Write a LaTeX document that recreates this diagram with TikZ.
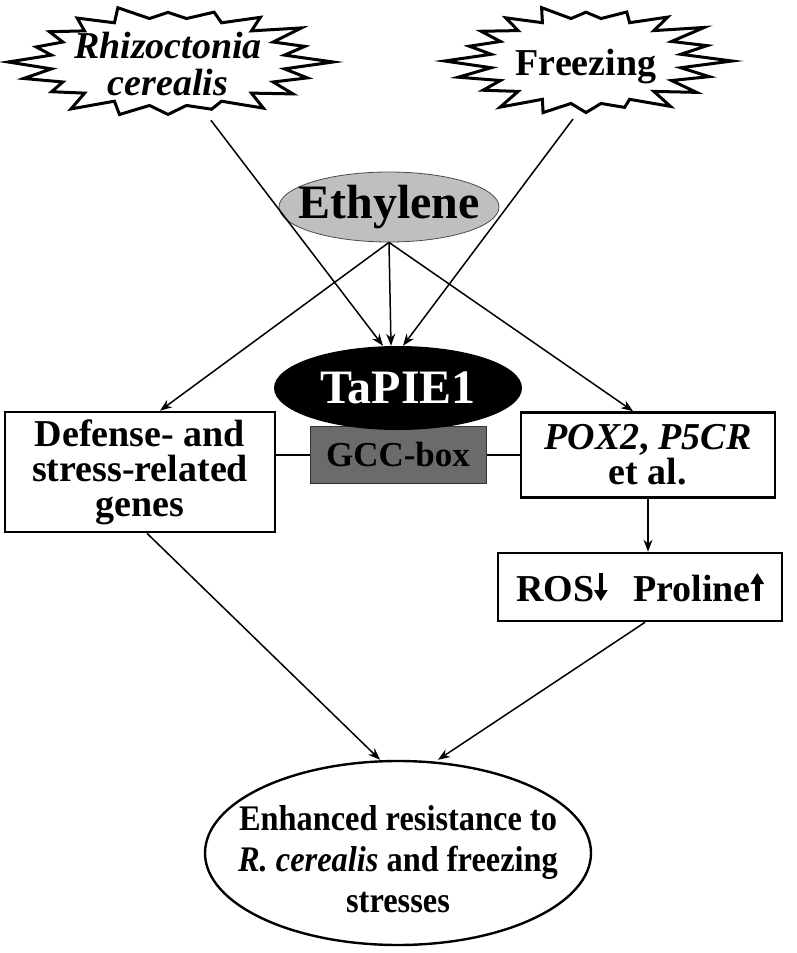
\documentclass[tikz,border=0pt]{standalone}
\usepackage{fontspec}
\setmainfont{Liberation Serif}
\newfontfamily\narrowserif{Liberation Serif}[FakeStretch=0.9]
\usetikzlibrary{arrows.meta,shapes.geometric}

\tikzset{
  oval/.style={ellipse, inner xsep=-60pt, inner ysep=0pt},
  genebox/.style={draw, line width=2.6pt, fill=white, align=center, inner sep=3pt,
                  font=\fontsize{38}{35}\selectfont\bfseries},
  burst/.style={line width=3pt, fill=white, line join=miter},
  link/.style={line width=1.5pt},
}

% spiky outline: centre, outer radii, inner radii
\newcommand\spikes[5]{%
  \begin{scope}[shift={(#1)}]
    \draw[burst] (#2,0)
      \foreach \k [evaluate=\k as \f using {isodd(\k) ? 1 : 0.84+0.16*mod(\k*7,11)/10},
                   evaluate=\k as \rx using {(isodd(\k) ? #4 : #2)*\f},
                   evaluate=\k as \ry using {(isodd(\k) ? #5 : #3)*\f}]
        in {1,...,39} { -- ({\rx*cos(\k*9)},{\ry*sin(\k*9)}) } -- cycle;
  \end{scope}}
\newcommand\arrdown{\tikz[x=1pt,y=1pt,baseline=0pt]\draw[line width=4.5pt,-{Triangle[length=11pt,width=13pt]}] (0,28)--(0,0);}
\newcommand\arrup{\tikz[x=1pt,y=1pt,baseline=0pt]\draw[line width=4.5pt,-{Triangle[length=11pt,width=13pt]}] (0,0)--(0,28);}

\begin{document}
\begin{tikzpicture}[x=1pt,y=-1pt,>={Stealth[length=12pt,width=9pt]}]
\useasboundingbox (0,0) rectangle (797,953);

% stresses
\coordinate (rc) at (168,62);
\coordinate (fc) at (586,61);
\spikes{rc}{165}{58}{118}{44}
\spikes{fc}{146}{57}{96}{43}
\node[oval, minimum width=330, minimum height=116, align=center,
      font=\fontsize{38}{37}\selectfont\bfseries\itshape] (rhizo) at (168,64) {Rhizoctonia\\cerealis};
\node[oval, minimum width=292, minimum height=104,
      font=\fontsize{38}{40}\selectfont\bfseries] (freeze) at (586,67) {Freezing};

% ethylene and the factor
\node[oval, draw=black!70, line width=0.8pt, fill=black!25, minimum width=220, minimum height=70,
      font=\fontsize{48}{50}\selectfont\bfseries] (eth) at (389,207) {Ethylene};
\node[draw=black!80, line width=1pt, fill=black!58, minimum width=176, minimum height=57, inner sep=0pt,
      font=\fontsize{35}{36}\selectfont\bfseries] (gcc) at (398,455) {GCC-box};
\node[oval, fill=black, text=white, minimum width=248, minimum height=84,
      font=\fontsize{48}{50}\selectfont\bfseries] (tapie) at (398,388) {TaPIE1};

% targets
\node[genebox, minimum width=270, minimum height=120] (defense) at (140,472) {Defense- and\\stress-related\\genes};
\node[genebox, minimum width=254, minimum height=85] (pox) at (648,455) {\textit{POX2}, \textit{P5CR}\\et al.};
\node[genebox, minimum width=284, minimum height=68] (ros) at (640,587) {ROS\arrdown\hspace{26pt}Proline\arrup};
\node[oval, draw, line width=2.4pt, minimum width=386, minimum height=184] (outcome) at (398,853) {};
\node[align=center, font=\narrowserif\fontsize{36}{41}\selectfont\bfseries] (outtext) at ([yshift=-6]outcome.center)
      {Enhanced resistance to\\\textit{R. cerealis} and freezing\\stresses};

\draw[->, link] (rhizo) -- ([xshift=-15]tapie.north);
\draw[->, link] (freeze.-104) -- ([xshift=5]tapie.north);
\draw[->, link] (eth.south) -- ([xshift=-7]tapie.north);
\draw[->, link] (eth.south) -- ([xshift=20]defense.north);
\draw[->, link] (eth.south) -- ([xshift=-15]pox.north);
\draw[line width=2.6pt] (gcc.west) -- (gcc.west -| defense.east);
\draw[line width=2.6pt] (gcc.east) -- (gcc.east -| pox.west);
\draw[->, link] (pox.south) -- (pox.south |- ros.north);
\draw[->, link] ([xshift=7]defense.south) -- ([xshift=-18]outcome.north);
\draw[->, link] ([xshift=5]ros.south) -- ([xshift=40]outcome.north);
\end{tikzpicture}
\end{document}
